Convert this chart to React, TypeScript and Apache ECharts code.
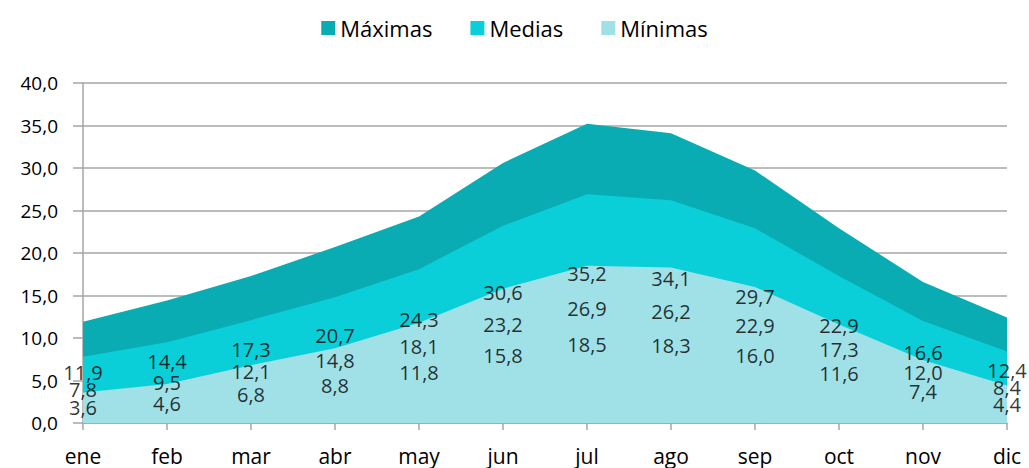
import React, { useEffect, useRef } from "react";
import * as echarts from "echarts";

const months = ["ene", "feb", "mar", "abr", "may", "jun", "jul", "ago", "sep", "oct", "nov", "dic"];
const maximas = [11.9, 14.4, 17.3, 20.7, 24.3, 30.6, 35.2, 34.1, 29.7, 22.9, 16.6, 12.4];
const medias = [7.8, 9.5, 12.1, 14.8, 18.1, 23.2, 26.9, 26.2, 22.9, 17.3, 12.0, 8.4];
const minimas = [3.6, 4.6, 6.8, 8.8, 11.8, 15.8, 18.5, 18.3, 16.0, 11.6, 7.4, 4.4];

const colors = ["#09ACB3", "#0ACFD8", "#A0E0E7"];
const FONT = "Open Sans";

const fmt = (v: number) => v.toFixed(1).replace(".", ",");

export default function App() {
  const ref = useRef<HTMLDivElement>(null);
  useEffect(() => {
    document.body.style.margin = "0";
    const chart = echarts.init(ref.current!, null, { renderer: "svg" });
    const areaSeries = (name: string, data: number[], color: string) => ({
      name,
      type: "line",
      data,
      symbol: "none",
      lineStyle: { width: 0, color },
      itemStyle: { color },
      areaStyle: { color, opacity: 1 },
    });
    const labelSeries = (name: string, data: number[]) => ({
      name,
      type: "scatter",
      data: data.map((v, i) => ({ value: [i, v / 2], raw: v })),
      symbolSize: 0,
      itemStyle: { color: "transparent" },
      label: {
        show: true,
        position: "inside",
        color: "#000",
        fontSize: 20,
        fontFamily: FONT,
        formatter: (p: any) => fmt(p.data.raw),
      },
      z: 5,
    });
    chart.setOption({
      animation: false,
      color: colors,
      legend: {
        top: 12,
        left: "center",
        itemWidth: 14,
        itemHeight: 14,
        itemGap: 38,
        icon: "rect",
        data: ["Máximas", "Medias", "Mínimas"],
        textStyle: { fontSize: 22, fontFamily: FONT, color: "#000" },
      },
      grid: { left: 83, right: 22, top: 83, bottom: 45 },
      xAxis: {
        type: "category",
        data: months,
        boundaryGap: false,
        axisLine: { lineStyle: { color: "#A6A6A6", width: 1.5 } },
        axisTick: { show: true, length: 7, alignWithLabel: true, lineStyle: { color: "#A6A6A6", width: 1.5 } },
        axisLabel: { fontSize: 21, fontFamily: FONT, color: "#000", margin: 22 },
        splitLine: { show: false },
      },
      yAxis: {
        type: "value",
        min: 0,
        max: 40,
        interval: 5,
        axisLine: { show: true, lineStyle: { color: "#A6A6A6", width: 1.5 } },
        axisTick: { show: true, length: 10, lineStyle: { color: "#A6A6A6", width: 1.5 } },
        axisLabel: { fontSize: 19, fontFamily: FONT, color: "#000", margin: 25, formatter: (v: number) => fmt(v) },
        splitLine: { show: true, lineStyle: { color: "#A6A6A6", width: 1.5 } },
      },
      series: [
        areaSeries("Máximas", maximas, colors[0]),
        areaSeries("Medias", medias, colors[1]),
        areaSeries("Mínimas", minimas, colors[2]),
        labelSeries("lblMax", maximas),
        labelSeries("lblMed", medias),
        labelSeries("lblMin", minimas),
      ],
    });
    return () => chart.dispose();
  }, []);
  return <div ref={ref} style={{ width: 1029, height: 468 }} />;
}
